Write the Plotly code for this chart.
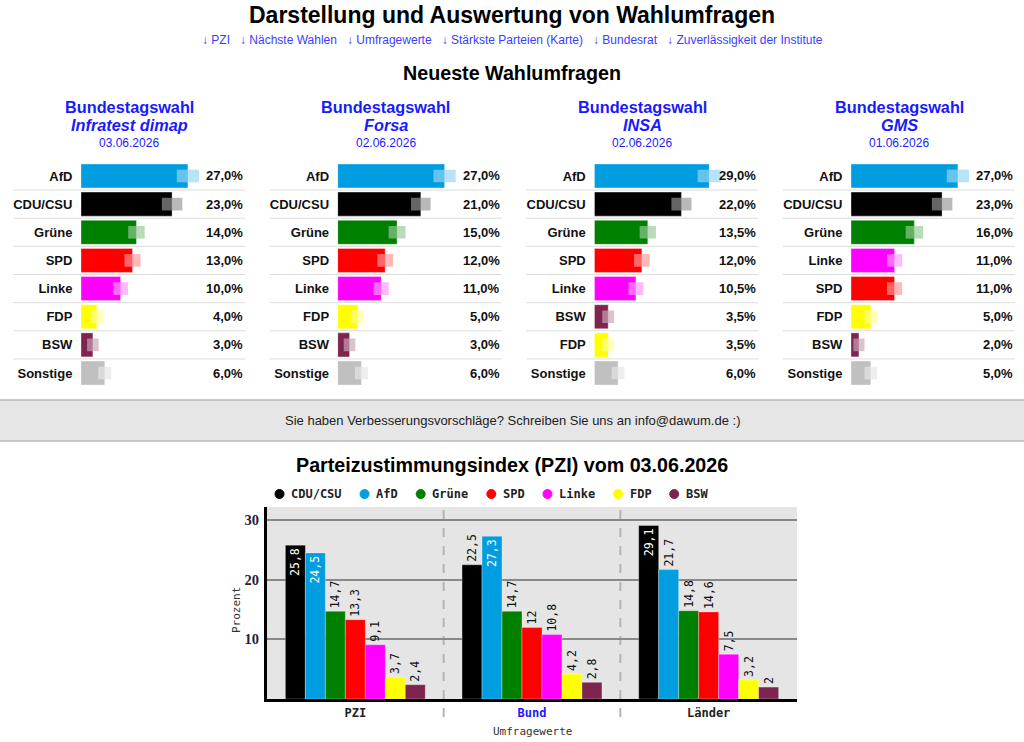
import plotly.graph_objects as go

W, H = 1024, 742

# Parteifarben
colors = {
    'AfD': '#009ee0', 'CDU/CSU': '#000000', 'Grüne': '#008000', 'SPD': '#ff0000',
    'Linke': '#ff00ff', 'FDP': '#ffff00', 'BSW': '#7d254f', 'Sonstige': '#c0c0c0',
}

# neueste Umfragen
institutes = ['Infratest dimap', 'Forsa', 'INSA', 'GMS']
dates = ['03.06.2026', '02.06.2026', '02.06.2026', '01.06.2026']
parties_1 = ['AfD', 'CDU/CSU', 'Grüne', 'SPD', 'Linke', 'FDP', 'BSW', 'Sonstige']
values_1 = [27, 23, 14, 13, 10, 4, 3, 6]
parties_2 = ['AfD', 'CDU/CSU', 'Grüne', 'SPD', 'Linke', 'FDP', 'BSW', 'Sonstige']
values_2 = [27, 21, 15, 12, 11, 5, 3, 6]
parties_3 = ['AfD', 'CDU/CSU', 'Grüne', 'SPD', 'Linke', 'BSW', 'FDP', 'Sonstige']
values_3 = [29, 22, 13.5, 12, 10.5, 3.5, 3.5, 6]
parties_4 = ['AfD', 'CDU/CSU', 'Grüne', 'Linke', 'SPD', 'FDP', 'BSW', 'Sonstige']
values_4 = [27, 23, 16, 11, 11, 5, 2, 5]
polls = [(parties_1, values_1), (parties_2, values_2), (parties_3, values_3), (parties_4, values_4)]

# PZI
pzi_groups = ['PZI', 'Bund', 'Länder']
pzi_parties = ['CDU/CSU', 'AfD', 'Grüne', 'SPD', 'Linke', 'FDP', 'BSW']
pzi_values = {
    'CDU/CSU': [25.8, 22.5, 29.1],
    'AfD': [24.5, 27.3, 21.7],
    'Grüne': [14.7, 14.7, 14.8],
    'SPD': [13.3, 12, 14.6],
    'Linke': [9.1, 10.8, 7.5],
    'FDP': [3.7, 4.2, 3.2],
    'BSW': [2.4, 2.8, 2],
}

FONT = 'Liberation Sans, Arial, sans-serif'
MONO = 'DejaVu Sans Mono, monospace'
BLUE = '#1a1aff'


def px_x(p):
    return p / W


def px_y(p):
    return 1 - p / H


def light(hexcol, a=0.67):
    r, g, b = int(hexcol[1:3], 16), int(hexcol[3:5], 16), int(hexcol[5:7], 16)
    r, g, b = [int(c + (255 - c) * 0.59) for c in (r, g, b)]
    return f'rgba({r},{g},{b},{a})'


def fmt(v):
    return (str(int(v)) if v == int(v) else str(v)).replace('.', ',')


fig = go.Figure()
annotations = []
shapes = []
layout_axes = {}

col_step = 256.67
row_top, row_bot = 161.9, 387.1
scale = 3.96  # px pro Prozent

for i, (parties, vals) in enumerate(polls, start=1):
    off = (i - 1) * col_step
    sfx = '' if i == 1 else str(i)
    xa, ya = 'x' + sfx, 'y' + sfx
    fig.add_trace(go.Bar(
        orientation='h', x=vals, y=parties, xaxis=xa, yaxis=ya,
        marker=dict(color=[colors[p] for p in parties],
                    line=dict(color='rgba(255,255,255,0.35)', width=1)),
        width=0.853, offset=-0.4265, hoverinfo='skip'))
    marg = [1.3 + 0.056 * v for v in vals]
    fig.add_trace(go.Bar(
        orientation='h', x=[2 * m for m in marg], base=[v - m for v, m in zip(vals, marg)],
        y=parties, xaxis=xa, yaxis=ya,
        marker=dict(color=[light(colors[p]) for p in parties], line=dict(width=0)),
        width=0.45, offset=-0.225, hoverinfo='skip'))
    layout_axes['xaxis' + sfx] = dict(
        domain=[px_x(81 + off), px_x(243 + off)], range=[0, 162 / scale],
        visible=False, anchor=ya, fixedrange=True)
    layout_axes['yaxis' + sfx] = dict(
        domain=[px_y(row_bot), px_y(row_top)], type='category',
        categoryarray=parties, range=[7.5, -0.5], anchor=xa,
        showgrid=False, zeroline=False, showline=False,
        ticks='outside', ticklen=5, tickcolor='rgba(0,0,0,0)',
        tickfont=dict(family=FONT, size=13, color='#111', weight='bold'))
    for k in range(len(parties) - 1):
        shapes.append(dict(type='line', xref='paper', yref=ya,
                           x0=px_x(13 + off), x1=px_x(245 + off), y0=k + 0.5, y1=k + 0.5,
                           line=dict(color='#dcdcdc', width=1)))
    for p, v in zip(parties, vals):
        annotations.append(dict(xref=f'{xa} domain', yref=ya, x=1, y=p, xanchor='right',
                                xshift=2, text=f'{v:.1f}%'.replace('.', ','), showarrow=False,
                                font=dict(family=FONT, size=13, color='#111', weight='bold')))
    cx = px_x(129 + off)
    annotations += [
        dict(x=cx, y=px_y(107), text='<b>Bundestagswahl</b>',
             font=dict(family=FONT, size=16.3, color=BLUE)),
        dict(x=cx, y=px_y(125), text=f'<b><i>{institutes[i - 1]}</i></b>',
             font=dict(family=FONT, size=16.3, color=BLUE)),
        dict(x=cx, y=px_y(143), text=dates[i - 1],
             font=dict(family=FONT, size=12, color=BLUE)),
    ]

# PZI Balken
for p in pzi_parties:
    vals = pzi_values[p]
    fig.add_trace(go.Bar(
        x=pzi_groups, y=vals, xaxis='x5', yaxis='y5', name=p,
        marker=dict(color=colors[p], line=dict(color='rgba(255,255,255,0.3)', width=1)),
        text=[fmt(v) for v in vals], textangle=-90, constraintext='none',
        textposition=['inside' if v > 24 else 'outside' for v in vals],
        insidetextanchor='end', cliponaxis=False,
        insidetextfont=dict(family=MONO, size=11.5, color='white'),
        outsidetextfont=dict(family=MONO, size=11.5, color='#111'),
        hoverinfo='skip'))

layout_axes['xaxis5'] = dict(
    domain=[px_x(267), px_x(797)], anchor='y5', type='category', range=[-0.5, 2.5],
    tickvals=pzi_groups,
    ticktext=['PZI', f'<span style="color:{BLUE}">Bund</span>', 'Länder'],
    tickfont=dict(family=MONO, size=12, color='#222', weight='bold'),
    ticks='outside', ticklen=1, tickcolor='rgba(0,0,0,0)',
    showline=True, linewidth=3, linecolor='black', showgrid=False, fixedrange=True)
layout_axes['yaxis5'] = dict(
    domain=[px_y(699), px_y(507)], anchor='x5', range=[0, 32.2],
    tickvals=[10, 20, 30], ticks='outside', ticklen=2, tickcolor='rgba(0,0,0,0)',
    tickfont=dict(family='Liberation Serif, serif', size=14.5, color='#223', weight='bold'),
    showline=True, linewidth=3, linecolor='black',
    showgrid=True, gridcolor='#888', gridwidth=1.6, zeroline=False, fixedrange=True)

shapes.append(dict(type='rect', xref='x5 domain', yref='y5 domain', x0=0, x1=1, y0=0, y1=1,
                   fillcolor='#e5e5e5', line=dict(width=0), layer='below'))
for xs in [0.5, 1.5]:
    shapes.append(dict(type='line', xref='x5', yref='paper', x0=xs, x1=xs,
                       y0=px_y(717), y1=px_y(507), layer='below',
                       line=dict(color='#b4b4b4', width=2, dash='dash')))

# grauer Hinweisbalken
shapes += [
    dict(type='rect', xref='paper', yref='paper', x0=0, x1=1, y0=px_y(441), y1=px_y(400),
         fillcolor='#e6e6e6', line=dict(width=0), layer='below'),
    dict(type='line', xref='paper', yref='paper', x0=0, x1=1, y0=px_y(400), y1=px_y(400),
         line=dict(color='#b9b9b9', width=1.5)),
    dict(type='line', xref='paper', yref='paper', x0=0, x1=1, y0=px_y(441), y1=px_y(441),
         line=dict(color='#b9b9b9', width=1.5)),
]

# Legende des PZI
lx = 275
for p in pzi_parties:
    shapes.append(dict(type='circle', xref='paper', yref='paper',
                       x0=px_x(lx), x1=px_x(lx + 9), y0=px_y(498.5), y1=px_y(489.5),
                       fillcolor=colors[p], line=dict(color=colors[p], width=1)))
    annotations.append(dict(x=px_x(lx + 14), y=px_y(494), xanchor='left', text=p,
                            font=dict(family=MONO, size=12, color='#222', weight='bold')))
    lx += 14 + len(p) * 7.22 + 20.5

nav = ['↓ PZI', '↓ Nächste Wahlen', '↓ Umfragewerte', '↓ Stärkste Parteien (Karte)',
       '↓ Bundesrat', '↓ Zuverlässigkeit der Institute']

annotations += [
    dict(x=0.5, y=px_y(15), text='<b>Darstellung und Auswertung von Wahlumfragen</b>',
         font=dict(family=FONT, size=23, color='#000')),
    dict(x=0.5, y=px_y(40), text=('\u00a0' * 3).join(nav),
         font=dict(family=FONT, size=12, color='#3c3cff')),
    dict(x=0.5, y=px_y(73), text='<b>Neueste Wahlumfragen</b>',
         font=dict(family=FONT, size=19.7, color='#000')),
    dict(x=0.5, y=px_y(420),
         text='Sie haben Verbesserungsvorschläge? Schreiben Sie uns an info@dawum.de :)',
         font=dict(family=FONT, size=13, color='#222')),
    dict(x=0.5, y=px_y(465), text='<b>Parteizustimmungsindex (PZI) vom 03.06.2026</b>',
         font=dict(family=FONT, size=19.7, color='#000')),
    dict(x=px_x(532), y=px_y(731), text='Umfragewerte',
         font=dict(family=MONO, size=11, color='#333')),
    dict(x=px_x(236), y=px_y(610), text='Prozent', textangle=-90,
         font=dict(family=MONO, size=11, color='#333')),
]
for a in annotations:
    a.setdefault('xref', 'paper')
    a.setdefault('yref', 'paper')
    a.setdefault('showarrow', False)
    a.setdefault('xanchor', 'center')
    a.setdefault('yanchor', 'middle')

fig.update_layout(
    width=W, height=H, margin=dict(l=0, r=0, t=0, b=0),
    paper_bgcolor='white', plot_bgcolor='rgba(0,0,0,0)',
    barmode='group', bargap=0.208, bargroupgap=0,
    showlegend=False, font=dict(family=FONT),
    annotations=annotations, shapes=shapes, **layout_axes)

# Seitenrand des Browsers entfernen, damit die Pixelpositionen stimmen
fig.write_html('out.html', config={'displayModeBar': False},
               post_script="document.body.style.margin='0';document.body.style.overflow='hidden';")
